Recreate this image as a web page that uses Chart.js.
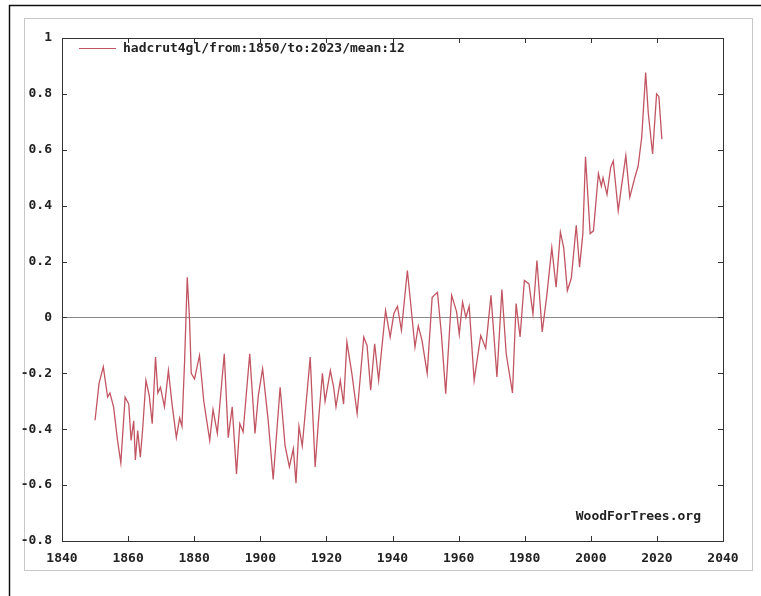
<!DOCTYPE html>
<html>
<head>
<meta charset="utf-8">
<script src="https://cdn.jsdelivr.net/npm/chart.js@4/dist/chart.umd.min.js"></script>
<style>
  html, body { margin: 0; padding: 0; background: #fff; }
  #wrap { width: 761px; height: 596px; position: relative; }
</style>
</head>
<body>
<div id="wrap"><canvas id="tempChart" width="761" height="596"></canvas></div>
<script>
// 12-month mean of HadCRUT4 global anomaly (turning points)
const years = [
  1850.0, 1851.2, 1852.5, 1853.8, 1854.5, 1855.6, 1856.8, 1857.8, 1859.1, 1860.2,
  1860.9, 1861.7, 1862.2, 1862.9, 1863.7, 1864.4, 1865.4, 1866.4, 1867.3, 1868.3,
  1869.0, 1869.8, 1871.0, 1872.2, 1873.3, 1874.6, 1875.6, 1876.3, 1877.1, 1877.9,
  1878.6, 1879.1, 1880.1, 1881.6, 1882.9, 1884.7, 1885.7, 1887.0, 1889.1, 1890.3,
  1891.5, 1892.8, 1893.8, 1894.8, 1896.8, 1898.4, 1899.4, 1900.7, 1902.4, 1903.9,
  1906.0, 1907.5, 1908.8, 1910.0, 1910.8, 1911.7, 1912.7, 1915.1, 1916.6, 1917.6,
  1918.8, 1919.6, 1921.2, 1922.2, 1922.9, 1924.2, 1925.2, 1926.2, 1927.7, 1929.3,
  1931.3, 1932.3, 1933.4, 1934.6, 1935.8, 1937.9, 1939.3, 1940.4, 1941.5, 1942.7,
  1944.5, 1945.5, 1946.8, 1947.8, 1948.9, 1950.5, 1952.0, 1953.6, 1954.8, 1956.1,
  1957.9, 1959.4, 1960.2, 1961.2, 1962.2, 1963.2, 1964.7, 1966.7, 1968.2, 1969.8,
  1971.6, 1973.1, 1974.4, 1976.3, 1977.4, 1978.6, 1979.9, 1981.3, 1982.5, 1983.7,
  1985.3, 1986.7, 1988.2, 1989.5, 1990.8, 1991.8, 1992.9, 1994.1, 1995.6, 1996.6,
  1997.6, 1998.4, 1999.8, 2000.8, 2002.3, 2003.2, 2003.7, 2004.9, 2006.0, 2006.8,
  2008.3, 2009.3, 2010.6, 2011.8, 2013.3, 2014.3, 2015.4, 2016.6, 2017.4, 2018.7,
  2019.9, 2020.6, 2021.5
];
const anomaly = [
  -0.368, -0.237, -0.177, -0.285, -0.27, -0.32, -0.44, -0.52, -0.285, -0.31,
  -0.44, -0.37, -0.51, -0.405, -0.50, -0.40, -0.225, -0.28, -0.38, -0.142,
  -0.27, -0.25, -0.32, -0.19, -0.31, -0.43, -0.36, -0.39, -0.155, 0.144,
  -0.01, -0.20, -0.22, -0.136, -0.30, -0.44, -0.33, -0.415, -0.13, -0.43,
  -0.32, -0.56, -0.38, -0.41, -0.13, -0.415, -0.28, -0.183, -0.37, -0.58,
  -0.25, -0.46, -0.535, -0.47, -0.593, -0.39, -0.46, -0.142, -0.535, -0.37,
  -0.20, -0.30, -0.19, -0.25, -0.32, -0.225, -0.31, -0.088, -0.20, -0.344,
  -0.07, -0.10, -0.26, -0.094, -0.225, 0.025, -0.07, 0.013, 0.04, -0.046,
  0.168, 0.05, -0.106, -0.03, -0.08, -0.20, 0.072, 0.09, -0.06, -0.273,
  0.079, 0.02, -0.06, 0.055, 0.0, 0.04, -0.225, -0.065, -0.11, 0.079,
  -0.213, 0.10, -0.13, -0.27, 0.05, -0.07, 0.132, 0.12, 0.013, 0.204,
  -0.052, 0.08, 0.25, 0.108, 0.305, 0.25, 0.096, 0.14, 0.33, 0.18,
  0.30, 0.575, 0.30, 0.31, 0.515, 0.47, 0.50, 0.44, 0.537, 0.56,
  0.382, 0.47, 0.579, 0.43, 0.50, 0.54, 0.644, 0.876, 0.73, 0.585,
  0.80, 0.79, 0.638
];
const seriesLabel = 'hadcrut4gl/from:1850/to:2023/mean:12';
const xTicks = [1840, 1860, 1880, 1900, 1920, 1940, 1960, 1980, 2000, 2020, 2040];
const yTicks = [-0.8, -0.6, -0.4, -0.2, 0, 0.2, 0.4, 0.6, 0.8, 1];

const FONT = { family: "'DejaVu Sans Mono', 'Liberation Mono', monospace", size: 13, weight: 'bold' };
const INK = '#222';

document.addEventListener('DOMContentLoaded', () => {
  const ctx = document.getElementById('tempChart').getContext('2d');

  // scanned page frame, inside ticks, legend and credit
  const decor = {
    id: 'decor',
    beforeDraw(chart) {
      const c = chart.ctx;
      c.save();
      c.fillStyle = '#fff';
      c.fillRect(0, 0, chart.width, chart.height);
      c.strokeStyle = '#111';
      c.lineWidth = 1.5;
      c.beginPath();
      c.moveTo(9.5, 596); c.lineTo(9.5, 5.5); c.lineTo(761, 5.5);
      c.stroke();
      c.strokeStyle = '#c8c8c8';
      c.lineWidth = 1;
      c.strokeRect(24.5, 18.5, 728, 552);
      c.restore();
    },
    afterDraw(chart) {
      const c = chart.ctx;
      const a = chart.chartArea;
      const xs = chart.scales.x, ys = chart.scales.y;
      c.save();
      c.strokeStyle = '#333';
      c.lineWidth = 1;
      c.strokeRect(a.left + 0.5, a.top + 0.5, a.right - a.left, a.bottom - a.top);
      c.beginPath();
      xs.ticks.forEach(t => {
        const px = Math.round(xs.getPixelForValue(t.value)) + 0.5;
        c.moveTo(px, a.bottom); c.lineTo(px, a.bottom - 5);
        c.moveTo(px, a.top); c.lineTo(px, a.top + 5);
      });
      ys.ticks.forEach(t => {
        const py = Math.round(ys.getPixelForValue(t.value)) + 0.5;
        c.moveTo(a.left, py); c.lineTo(a.left + 5, py);
        c.moveTo(a.right, py); c.lineTo(a.right - 5, py);
      });
      c.stroke();

      // legend inside the plot
      const ds = chart.data.datasets[0];
      c.strokeStyle = ds.borderColor;
      c.lineWidth = 1;
      c.beginPath();
      c.moveTo(79, 48.5); c.lineTo(116, 48.5);
      c.stroke();
      c.font = `${FONT.weight} ${FONT.size}px ${FONT.family}`;
      c.fillStyle = INK;
      c.textBaseline = 'middle';
      c.textAlign = 'left';
      c.fillText(ds.label, 123, 49);

      c.textAlign = 'right';
      c.fillText('WoodForTrees.org', 701, 517);
      c.restore();
    }
  };

  new Chart(ctx, {
    type: 'line',
    data: {
      datasets: [{
        label: seriesLabel,
        data: years.map((x, i) => ({ x, y: anomaly[i] })),
        borderColor: '#c25562',
        borderWidth: 1.3,
        pointRadius: 0,
        tension: 0,
        fill: false
      }]
    },
    options: {
      responsive: false,
      animation: false,
      layout: { padding: { top: 38, right: 38, left: 0, bottom: 0 } },
      plugins: {
        legend: { display: false },
        tooltip: { enabled: false }
      },
      scales: {
        x: {
          type: 'linear',
          min: 1840,
          max: 2040,
          afterBuildTicks: s => { s.ticks = xTicks.map(v => ({ value: v })); },
          afterFit: s => { s.height = 55; },
          grid: { display: false, drawTicks: false },
          border: { display: false },
          ticks: {
            padding: 10,
            maxRotation: 0,
            autoSkip: false,
            color: INK,
            font: FONT,
            callback: v => String(v)
          }
        },
        y: {
          type: 'linear',
          min: -0.8,
          max: 1,
          afterBuildTicks: s => { s.ticks = yTicks.map(v => ({ value: v })); },
          afterFit: s => { s.width = 62; },
          grid: {
            drawTicks: false,
            color: c => (c.tick && c.tick.value === 0 ? '#8a8a8a' : 'rgba(0,0,0,0)'),
            lineWidth: 1
          },
          border: { display: false },
          ticks: {
            padding: 10,
            color: INK,
            font: FONT,
            callback: v => String(+Number(v).toFixed(1))
          }
        }
      }
    },
    plugins: [decor]
  });
});
</script>
</body>
</html>
